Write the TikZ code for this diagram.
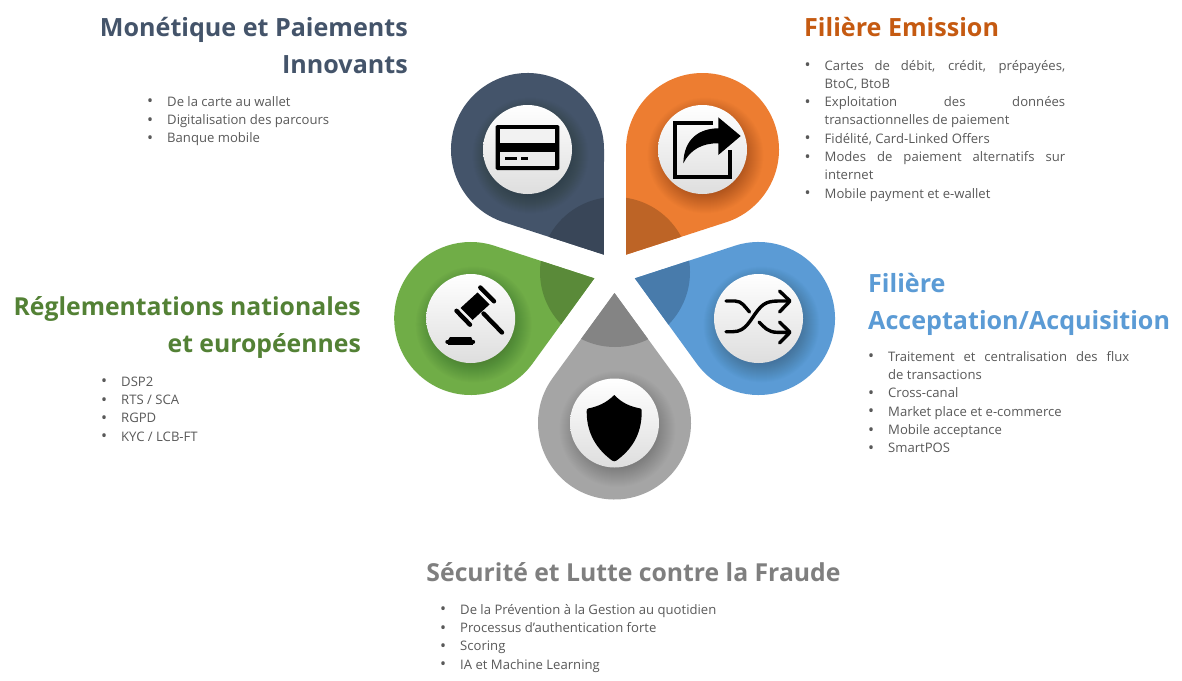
\documentclass[tikz,border=0pt]{standalone}
\usepackage{fontspec}
\setmainfont{Open Sans}
\definecolor{navyc}{HTML}{44546A}\definecolor{navyd}{HTML}{394658}
\definecolor{orgc}{HTML}{ED7D31}\definecolor{orgd}{HTML}{BD6426}
\definecolor{bluec}{HTML}{5B9BD5}\definecolor{blued}{HTML}{487BAB}
\definecolor{grnc}{HTML}{70AD47}\definecolor{grnd}{HTML}{5A8A39}
\definecolor{gryc}{HTML}{A5A5A5}\definecolor{gryd}{HTML}{848484}
\definecolor{orgt}{HTML}{C55A11}\definecolor{grnt}{HTML}{538135}
\definecolor{gryt}{HTML}{7F7F7F}\definecolor{bodyt}{HTML}{595959}
\newcommand{\dropshape}{(0,-130) -- (-36:76.5) arc[start angle=-36,end angle=216,radius=76.5] -- cycle}
\newcommand{\petal}[5]{%
  \fill[#4,shift={(#1,#2)},rotate=#3] \dropshape;
  \begin{scope}
    \clip[shift={(#1,#2)},rotate=#3] \dropshape;
    \fill[#5] (615,272) circle[radius=75];
    \foreach \r in {38,39,...,58}{\fill[black,opacity=0.012] (#1+3,#2+6) circle[radius=\r];}
  \end{scope}
  \shade[top color=white,bottom color=black!13] (#1,#2) circle[radius=44.5];
}
\newcommand{\bul}[1]{\rule{0pt}{10pt}\hbox to 0pt{\hss{\fontsize{16}{16}\selectfont\raisebox{-0.6pt}{•}}\hskip 14pt}#1}
\tikzset{
  ttl/.style={inner sep=0pt,font=\fontsize{25.1}{37}\selectfont\bfseries},
  ttlb/.style={inner sep=0pt,font=\fontsize{24.75}{37}\selectfont\bfseries},
  bodytxt/.style={anchor=north west,inner sep=0pt,align=left,text=bodyt,font=\fontsize{13.1}{18.3}\selectfont},
  ico/.style={line cap=round,line join=round}
}
\begin{document}
\begin{tikzpicture}[x=1pt,y=-1pt]
\useasboundingbox (0,0) rectangle (1182,680);
\fill[white] (0,0) rectangle (1182,680);
\petal{527.5}{149.5}{216}{navyc}{navyd}
\petal{702.5}{149.5}{144}{orgc}{orgd}
\petal{470.7}{318.5}{-72}{grnc}{grnd}
\petal{758.5}{318.5}{72}{bluec}{blued}
\petal{614.5}{423}{0}{gryc}{gryd}
% card icon
\fill[black,rounded corners=1.5] (495.7,125) rectangle (559.3,170);
\fill[black!5] (500,129.3) rectangle (555,142.7);
\fill[black!8] (500,151.7) rectangle (555,166);
\fill[black] (505,157) rectangle (517.3,160.3);
\fill[black] (521,157) rectangle (527.7,160.3);
% share icon
\draw[line width=4,line join=miter] (713,122.7) -- (675.3,122.7) -- (675.3,177) -- (730.3,177) -- (730.3,150);
\fill[black] (740.7,136) -- (718.3,117.3) -- (718.3,128.3) .. controls (700,128.5) and (684,138) .. (683.3,163.3) .. controls (690,150) and (702,143) .. (718.3,143.3) -- (718.3,155) -- cycle;
% gavel icon
\draw[ico,line width=4.4] (483.5,313.5) -- (502,332.5);
\draw[ico,line width=4.4,line cap=round] (480.3,287.5) -- (494,301.3);
\draw[ico,line width=4.4] (456.5,310.8) -- (470,324.7);
\fill[black] (477.5,292.5) -- (489.5,304.5) -- (472.5,320) -- (460.5,308) -- cycle;
\fill[black] (447.5,341) rectangle (473,344.5);
\fill[black] (450,337) -- (471,337) -- (473,341) -- (447.5,341) -- cycle;
\draw[ico,line width=4.4] (447.5,341.8) -- (473,341.8);
% shuffle icon
\draw[ico,line width=3.4] (726,331.7) -- (733,331.7) .. controls (746,331.7) and (750,320) .. (758,310) .. controls (766,300) and (772,301) .. (789.5,301);
\draw[ico,line width=3.4] (726,301) -- (735,301) .. controls (742,301) and (745,307) .. (749.5,312);
\draw[ico,line width=3.4] (759,322) .. controls (764,327) and (768,332.3) .. (777,332.3) -- (789.5,332.3);
\draw[ico,line width=3.4] (779.5,291) -- (790,301) -- (779.5,312);
\draw[ico,line width=3.4] (779.5,322) -- (790,332.3) -- (779.5,343);
% shield icon
\fill[black] (614.3,395) .. controls (606,403) and (598,406.5) .. (588,408.5) .. controls (586.5,409) and (586.7,410) .. (586.7,412) .. controls (586.7,435) and (598,450) .. (612,460.5) .. controls (613.5,461.5) and (615,461.5) .. (616.5,460.5) .. controls (631,450) and (641.7,435) .. (641.7,412) .. controls (641.7,410) and (642,409) .. (640.5,408.5) .. controls (630,406.5) and (622,403) .. (614.3,395) -- cycle;
% titles
\node[ttl,text=navyc,anchor=base east] (t1a) at (408,36) {Monétique et Paiements};
\node[ttl,text=navyc,anchor=base east] (t1b) at (408,73.5) {Innovants};
\node[ttl,text=orgt,anchor=base west] (t2) at (804,36) {Filière Emission};
\node[ttl,text=bluec,anchor=base west] (t3a) at (868,292) {Filière};
\node[ttl,text=bluec,anchor=base west] (t3b) at (868,329) {Acceptation/Acquisition};
\node[ttlb,text=grnt,anchor=base east] (t4a) at (361,315) {Réglementations nationales};
\node[ttlb,text=grnt,anchor=base east] (t4b) at (361,352) {et européennes};
\node[ttlb,text=gryt,anchor=base] (t5) at (633.5,581) {Sécurité et Lutte contre la Fraude};
% bodies
\node[bodytxt] (b1) at (167,96) {\bul{De la carte au wallet}\\\bul{Digitalisation des parcours}\\\bul{Banque mobile}};
\node[bodytxt] (b2) at (824.5,59.8) {\bul{\makebox[240.5pt][s]{Cartes de débit, crédit, prépayées,}}\\BtoC, BtoB\\\bul{\makebox[240.5pt][s]{Exploitation des données}}\\transactionnelles de paiement\\\bul{Fidélité, Card-Linked Offers}\\\bul{\makebox[240.5pt][s]{Modes de paiement alternatifs sur}}\\internet\\\bul{Mobile payment et e-wallet}};
\node[bodytxt] (b3) at (888,351) {\bul{\makebox[241pt][s]{Traitement et centralisation des flux}}\\de transactions\\\bul{Cross-canal}\\\bul{Market place et e-commerce}\\\bul{Mobile acceptance}\\\bul{SmartPOS}};
\node[bodytxt] (b4) at (121,376) {\bul{DSP2}\\\bul{RTS / SCA}\\\bul{RGPD}\\\bul{KYC / LCB-FT}};
\node[bodytxt] (b5) at (460,604) {\bul{De la Prévention à la Gestion au quotidien}\\\bul{Processus d’authentication forte}\\\bul{Scoring}\\\bul{IA et Machine Learning}};
\end{tikzpicture}
\end{document}
